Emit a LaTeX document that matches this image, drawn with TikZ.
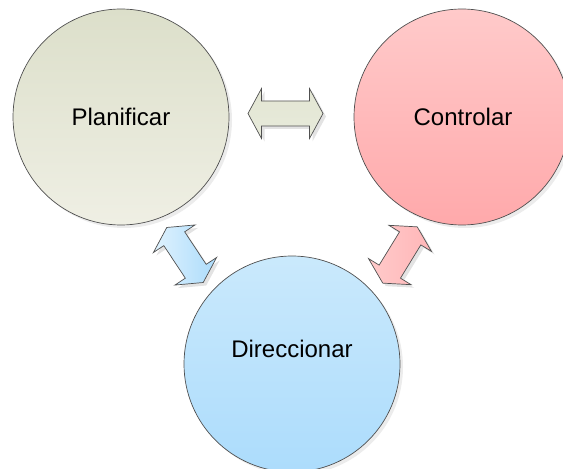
\documentclass[tikz,border=0pt]{standalone}
\usepackage{fontspec}
\setmainfont{Liberation Sans}
\usetikzlibrary{shadows}
\definecolor{planTop}{HTML}{DCDFCA}
\definecolor{planBot}{HTML}{EFEFE4}
\definecolor{ctrlTop}{HTML}{FFCACA}
\definecolor{ctrlBot}{HTML}{FFA9AB}
\definecolor{dirTop}{HTML}{CAE9FC}
\definecolor{dirBot}{HTML}{ACDCFC}
\definecolor{linkTop}{HTML}{E2E5D3}
\definecolor{linkBot}{HTML}{E8EBDB}
\definecolor{edge}{HTML}{505050}
\begin{document}
\begin{tikzpicture}[x=1pt,y=1pt,
  stage/.style={circle, draw=edge, line width=0.7pt, minimum size=216pt,
    inner sep=0pt, font=\fontsize{24}{28}\selectfont,
    drop shadow={shadow xshift=3pt, shadow yshift=-3pt, opacity=0.15}},
  link/.style={draw=edge, line width=0.7pt,
    drop shadow={shadow xshift=3pt, shadow yshift=-3pt, opacity=0.22}},
  % double-headed block arrow: #1 = half length, #2 = fill options
  pics/dblarrow/.style n args={2}{code={
    \path[link, #2]
      (-#1,0) -- (-#1+13.5,25) -- (-#1+13.5,12.5) -- (#1-13.5,12.5)
      -- (#1-13.5,25) -- (#1,0) -- (#1-13.5,-25) -- (#1-13.5,-12.5)
      -- (-#1+13.5,-12.5) -- (-#1+13.5,-25) -- cycle;
  }}
]
\useasboundingbox (0,0) rectangle (563,469);
\begin{scope}
\clip (0,0) rectangle (563,469);

% the three stages
\node[stage, top color=planTop, bottom color=planBot] (plan) at (121,352) {Planificar};
\node[stage, top color=ctrlTop, bottom color=ctrlBot] (ctrl) at (462,352) {};
\node[stage, top color=dirTop, bottom color=dirBot] (dir) at (292,105) {};
\node[font=\fontsize{24}{28}\selectfont] (ctrltext) at (463,352) {Controlar};
\node[font=\fontsize{24}{28}\selectfont] (dirtext) at ([yshift=15.5pt]dir.center) {Direccionar};

% the links between stages
\pic at (285.5,355.5) {dblarrow={37.5}{top color=linkTop, bottom color=linkBot}};
\pic[rotate=-56.5] at (185,214) {dblarrow={33}{left color=dirTop!60!white, right color=dirBot}};
\pic[rotate=58.5] at (400,214) {dblarrow={33}{left color=ctrlTop, right color=ctrlBot!85!white}};
\end{scope}
\end{tikzpicture}
\end{document}
